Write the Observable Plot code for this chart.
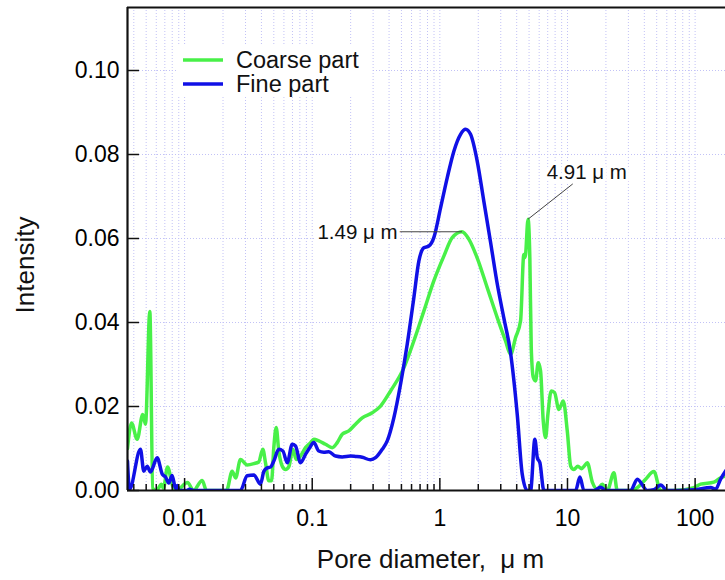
<!DOCTYPE html>
<html><head><meta charset="utf-8">
<script src="https://cdn.jsdelivr.net/npm/d3@7"></script>
<script src="https://cdn.jsdelivr.net/npm/@observablehq/plot@0.6"></script>
<style>
  html,body{margin:0;padding:0;background:#fff}
  #chart{width:725px;height:580px}
</style>
</head><body><div id="chart"></div>
<script>
// ---- data (pore diameter in µm, intensity) ----
const coarseX = [0.00357, 0.00384, 0.00425, 0.00470, 0.00494, 0.00534, 0.00563, 0.00602, 0.00659, 0.00683,
  0.00735, 0.00804, 0.00864, 0.01054, 0.01174, 0.01374, 0.01484, 0.0213, 0.0236, 0.0251,
  0.0274, 0.0309, 0.0349, 0.0381, 0.0410, 0.0431, 0.0457, 0.0480, 0.0500, 0.0522,
  0.0547, 0.0582, 0.0618, 0.0656, 0.0705, 0.0749, 0.0809, 0.0886, 0.0970, 0.1029,
  0.1126, 0.1271, 0.1435, 0.157, 0.1718, 0.1936, 0.2184, 0.2465, 0.2953, 0.343,
  0.411, 0.522, 0.6255, 0.749, 0.897, 1.075, 1.25, 1.49, 1.69, 1.96,
  2.35, 2.82, 3.27, 3.58, 3.92, 4.29, 4.55, 4.66, 4.91, 5.07,
  5.20, 5.40, 5.62, 5.90, 6.15, 6.46, 6.74, 7.02, 7.46, 7.92,
  8.56, 9.27, 9.96, 10.6, 11.22, 12.06, 12.83, 13.5, 14.3, 15.65,
  17.12, 18.74, 20.51, 23.1, 24.56, 31.23, 36.28, 40.94, 47.54, 53.65,
  68.2, 97.9, 110.4, 140.4, 158.4, 176.6];
const coarseY = [0.0100, 0.0161, 0.0122, 0.0181, 0.0158, 0.0426, 0.0005, 0, 0.0015, 0.0005,
  0.0056, 0.0012, 0, 0.0019, 0, 0.0024, 0, 0, 0.0046, 0.0030,
  0.0074, 0.0061, 0.0064, 0.0068, 0.0098, 0.0065, 0.0023, 0.0023, 0.0102, 0.0150,
  0.0094, 0.0058, 0.0050, 0.0057, 0.0098, 0.0074, 0.0082, 0.0102, 0.0114, 0.0122,
  0.0118, 0.0110, 0.0102, 0.0114, 0.0134, 0.0142, 0.0158, 0.0173, 0.0185, 0.0201,
  0.0237, 0.0292, 0.0356, 0.0427, 0.0499, 0.0558, 0.0602, 0.0616, 0.0598, 0.0554,
  0.0483, 0.0411, 0.0356, 0.0324, 0.0364, 0.0404, 0.0562, 0.0555, 0.0646, 0.0554,
  0.0340, 0.0269, 0.0261, 0.0304, 0.0285, 0.0165, 0.0126, 0.0181, 0.0237, 0.0233,
  0.0193, 0.0213, 0.0142, 0.0058, 0.0050, 0.0058, 0.0052, 0.0058, 0.0066, 0.0020,
  0.0003, 0.0015, 0, 0.0042, 0, 0, 0.0010, 0.0027, 0.0045, 0,
  0, 0.0007, 0.0015, 0.0020, 0.0030, 0.0036];

const fineX = [0.00357, 0.00370, 0.00451, 0.00479, 0.00509, 0.00540, 0.00610, 0.00668, 0.00709, 0.00752,
  0.00799, 0.00849, 0.00875, 0.00901, 0.01035, 0.01092, 0.01174, 0.0274, 0.0309, 0.0349,
  0.0393, 0.0418, 0.0444, 0.0472, 0.0500, 0.0547, 0.0589, 0.0637, 0.0697, 0.0740,
  0.0809, 0.0886, 0.0952, 0.1029, 0.1126, 0.1233, 0.1349, 0.1522, 0.1718, 0.1996,
  0.2184, 0.2465, 0.2863, 0.3134, 0.3537, 0.387, 0.436, 0.492, 0.555, 0.6255,
  0.6845, 0.749, 0.820, 0.897, 1.013, 1.143, 1.288, 1.453, 1.59, 1.74,
  1.96, 2.21, 2.50, 2.82, 3.17, 3.58, 4.04, 4.42, 4.84, 5.14,
  5.55, 5.80, 6.08, 6.53, 11.57, 12.51, 13.45, 16.10, 18.17, 19.89,
  31.23, 35.24, 42.22, 47.54, 53.65, 60.54, 97.9, 132.3, 144.7, 158.4,
  176.6];
const fineY = [0.0070, 0.0003, 0.0098, 0.0046, 0.0058, 0.0044, 0.0078, 0.0039, 0.0032, 0.0018,
  0.0036, 0.0005, 0.0012, 0, 0, 0.0003, 0, 0, 0.0035, 0.0037,
  0.0015, 0.0046, 0.0054, 0.0056, 0.0070, 0.0098, 0.0094, 0.0066, 0.0110, 0.0106,
  0.0066, 0.0086, 0.0101, 0.0114, 0.0094, 0.0091, 0.0092, 0.0082, 0.0080, 0.0082,
  0.0081, 0.0079, 0.0073, 0.0078, 0.0098, 0.0118, 0.0173, 0.0253, 0.0348, 0.0459,
  0.0546, 0.0578, 0.0582, 0.0602, 0.0673, 0.0745, 0.0808, 0.0848, 0.0860, 0.0848,
  0.0785, 0.0689, 0.0590, 0.0491, 0.0411, 0.0328, 0.0181, 0.0039, 0, 0,
  0.0122, 0.0078, 0.0066, 0, 0, 0.0032, 0, 0, 0.0008, 0,
  0, 0.0027, 0, 0.0002, 0.0013, 0, 0.0002, 0.0007, 0.0003, 0.0027,
  0.0050];

const seriesNames = ["Coarse part", "Fine part"];
const seriesColors = ["#48f048", "#1010e6"];

const xMajorTicks = [0.01, 0.1, 1, 10, 100];
const xTickLabels = ["0.01", "0.1", "1", "10", "100"];
const yTicks = [0, 0.02, 0.04, 0.06, 0.08, 0.10];
const yTickLabels = ["0.00", "0.02", "0.04", "0.06", "0.08", "0.10"];

const annLabels = ["1.49 \u03bc m", "4.91 \u03bc m"];
const annPeakX = [1.49, 4.91];
const annPeakY = [0.0616, 0.0646];
const annLabelX = [0.475, 11.0];
const annLabelY = [0.0616, 0.0730];

const xTitle = "Pore diameter,\u00a0 \u03bc m";
const yTitle = "Intensity";

const xDomain = [0.00357, 173];
const yDomain = [0, 0.115];

// ---- derived tables ----
const coarse = coarseX.map((x, i) => ({x, y: coarseY[i]}));
const fine = fineX.map((x, i) => ({x, y: fineY[i]}));
const ann = annLabels.map((label, i) => ({label, px: annPeakX[i], py: annPeakY[i], lx: annLabelX[i], ly: annLabelY[i]}));
const xAll = d3.scaleLog().domain(xDomain).ticks();
const xMinor = xAll.filter(t => Math.abs(Math.log10(t) - Math.round(Math.log10(t))) > 1e-9);

const W = 725, H = 580, mL = 127, mR = 0, mT = 7, mB = 90;
const plotH = H - mT - mB, plotW = W - mL - mR;
const font = "'Liberation Sans', Arial, Helvetica, sans-serif";
const gridColor = "#c2c2f6";

const chart = Plot.plot({
  width: W, height: H,
  marginLeft: mL, marginRight: mR, marginTop: mT, marginBottom: mB,
  style: {fontFamily: font, fontSize: "23px", color: "#000", background: "#fff"},
  x: {type: "log", domain: xDomain},
  y: {domain: yDomain},
  marks: [
    // grid
    Plot.ruleX(xAll, {x: d => d, stroke: gridColor, strokeWidth: 1, strokeDasharray: "1,2"}),
    Plot.ruleY(yTicks.slice(1), {y: d => d, stroke: gridColor, strokeWidth: 1, strokeDasharray: "1,2"}),
    // series
    Plot.lineY(coarse, {x: "x", y: "y", stroke: seriesColors[0], strokeWidth: 3.5, curve: "monotone-x", clip: true}),
    Plot.lineY(fine, {x: "x", y: "y", stroke: seriesColors[1], strokeWidth: 3.5, curve: "monotone-x", clip: true}),
    // annotations
    Plot.link(ann, {x1: "px", y1: "py", x2: "lx", y2: "ly", stroke: "#444", strokeWidth: 1}),
    Plot.text(ann.slice(0, 1), {x: "lx", y: "ly", text: "label", textAnchor: "end", lineAnchor: "middle", dx: -1, dy: 1, fontSize: 20.5,
      fill: "#111", stroke: "white", strokeWidth: 7}),
    Plot.text(ann.slice(1), {x: "lx", y: "ly", text: "label", textAnchor: "middle", lineAnchor: "middle", dx: 14, dy: -11, fontSize: 20.5,
      fill: "#111", stroke: "white", strokeWidth: 7}),
    // inward ticks
    Plot.tickX(xMajorTicks, {x: d => d, insetTop: plotH - 12, stroke: "#111", strokeWidth: 1.5}),
    Plot.tickX(xMinor, {x: d => d, insetTop: plotH - 6, stroke: "#111", strokeWidth: 1.5}),
    Plot.tickY(yTicks, {y: d => d, insetRight: plotW - 12, stroke: "#111", strokeWidth: 1.5}),
    // frame lines
    Plot.ruleX([xDomain[0]], {stroke: "#111", strokeWidth: 2.2}),
    Plot.ruleY([yDomain[0]], {stroke: "#111", strokeWidth: 2.2}),
    Plot.ruleY([yDomain[1]], {stroke: "#111", strokeWidth: 2.2}),
    // axes labels
    Plot.axisX({ticks: xMajorTicks, tickSize: 0, tickPadding: 19, fontSize: 23,
      tickFormat: d => xTickLabels[xMajorTicks.indexOf(d)], label: null}),
    Plot.axisY({ticks: yTicks, tickSize: 0, tickPadding: 8, fontSize: 23,
      tickFormat: d => yTickLabels[yTicks.indexOf(d)], label: null}),
    // titles
    Plot.text([xTitle], {frameAnchor: "bottom", textAnchor: "middle", lineAnchor: "middle", text: d => d,
      dx: 4, dy: 69, fontSize: 26, fill: "#111"}),
    Plot.text([yTitle], {frameAnchor: "left", textAnchor: "middle", lineAnchor: "middle", text: d => d,
      dx: -102, dy: 16, rotate: -90, fontSize: 26, fill: "#111"})
  ]
});

// legend (inside the plot area, top-left)
const svg = d3.select(chart);
const lg = svg.append("g").attr("font-family", font).style("font-size", "23.5px").attr("text-anchor", "start");
lg.append("rect").attr("x", 176).attr("y", 46).attr("width", 196).attr("height", 51).attr("fill", "#fff");
seriesNames.forEach((name, i) => {
  const y = 60 + i * 24;
  lg.append("line").attr("x1", 183).attr("x2", 223).attr("y1", y).attr("y2", y)
    .attr("stroke", seriesColors[i]).attr("stroke-width", 3.5);
  lg.append("text").attr("x", 236).attr("y", y).attr("dy", "0.35em").attr("text-anchor", "start")
    .attr("fill", "#111").text(name);
});

document.getElementById("chart").appendChild(chart);
</script>
</body></html>
